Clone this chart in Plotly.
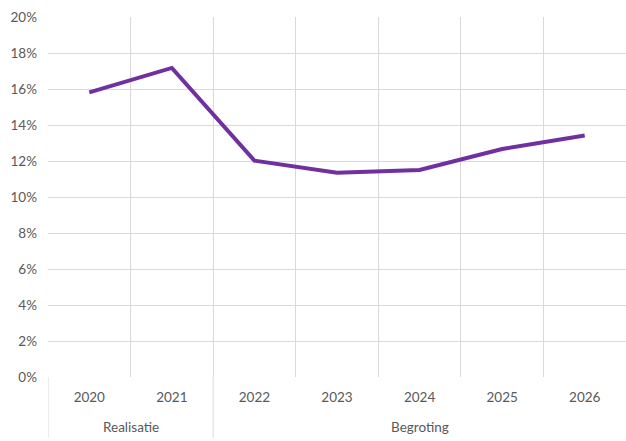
import plotly.graph_objects as go

years = ["2020", "2021", "2022", "2023", "2024", "2025", "2026"]
values = [15.81, 17.17, 12.02, 11.35, 11.5, 12.67, 13.42]
groups = ["Realisatie", "Realisatie", "Begroting", "Begroting", "Begroting", "Begroting", "Begroting"]
y_ticks = [0, 2, 4, 6, 8, 10, 12, 14, 16, 18, 20]

FONT = "Lato, Carlito, Calibri, sans-serif"
TXT = "#595959"
GRID = "#d9d9d9"

idx = list(range(len(years)))
fig = go.Figure()
fig.add_trace(go.Scatter(x=idx, y=values, mode="lines",
                         line=dict(color="#7030A0", width=4), hoverinfo="skip"))
# invisible trace on overlay axis for boundary gridlines
fig.add_trace(go.Scatter(x=[idx[0]], y=[values[0]], xaxis="x2", mode="markers",
                         marker=dict(opacity=0), hoverinfo="skip"))

bounds = [i - 0.5 for i in idx] + [idx[-1] + 0.5]

fig.update_layout(
    width=626, height=441,
    margin=dict(l=48, r=0, t=17, b=64, autoexpand=False),
    paper_bgcolor="white", plot_bgcolor="white",
    showlegend=False,
    font=dict(family=FONT, color=TXT, size=13),
    xaxis=dict(range=[-0.5, len(years) - 0.5], tickvals=idx, ticktext=years,
               showgrid=False, zeroline=False, showline=False, ticks="",
               automargin=False,
               ticklabelstandoff=10, tickfont=dict(size=13.5, color=TXT)),
    xaxis2=dict(range=[-0.5, len(years) - 0.5], overlaying="x", side="bottom",
                tickvals=bounds, showticklabels=False, showgrid=True,
                automargin=False,
                gridcolor=GRID, gridwidth=1, zeroline=False, ticks=""),
    yaxis=dict(range=[0, 20], tickvals=y_ticks,
               ticktext=[f"{v}%" for v in y_ticks], showgrid=True,
               automargin=False,
               gridcolor=GRID, gridwidth=1, zeroline=False, showline=False,
               ticks="", ticklabelstandoff=10, tickfont=dict(size=13.5, color=TXT)),
)

# group labels and separators
group_names = []
for g in groups:
    if g not in group_names:
        group_names.append(g)
for g in group_names:
    members = [i for i, gg in enumerate(groups) if gg == g]
    center = (members[0] + members[-1]) / 2
    fig.add_annotation(x=center, xref="x", y=-0.14, yref="paper", text=g,
                       showarrow=False, yanchor="middle",
                       font=dict(size=13.5, color=TXT, family=FONT))
    fig.add_shape(type="line", xref="x", yref="paper",
                  x0=members[0] - 0.5, x1=members[0] - 0.5, y0=0, y1=-0.17,
                  line=dict(color=GRID, width=1))

fig.write_html("out.html", config={"displayModeBar": False},
               post_script="document.body.style.margin='0';document.body.style.overflow='hidden';")
